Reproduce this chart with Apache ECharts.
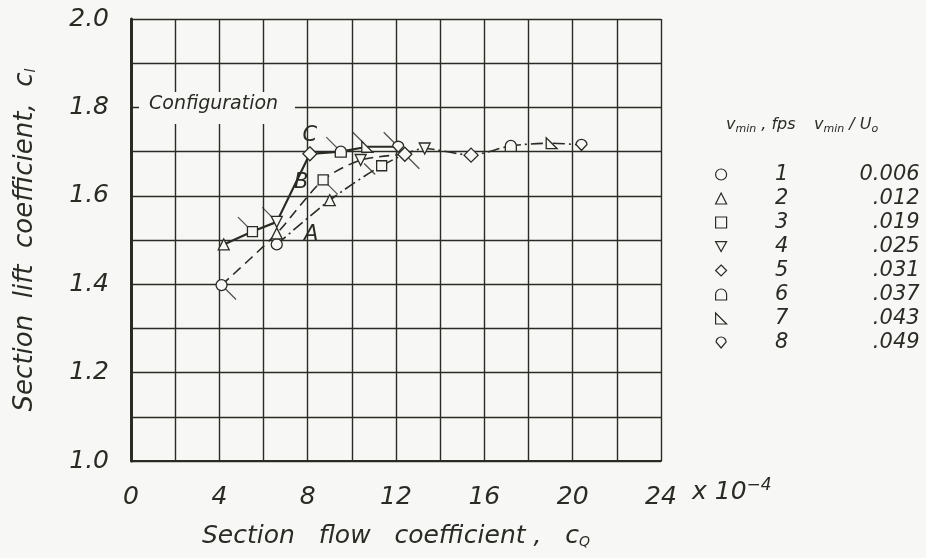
<!DOCTYPE html>
<html>
<head>
<meta charset="utf-8">
<script src="https://cdn.jsdelivr.net/npm/echarts@6/dist/echarts.min.js"></script>
<style>html,body{margin:0;padding:0;background:#f7f7f5;}#c{width:926px;height:558px;}</style>
</head>
<body>
<div id="c"></div>
<script>
// ---- data ----
// Configuration A (dash-dot)
const curveA_x = [6.6, 9.0, 11.35, 13.3, 15.4, 17.2, 19.05, 20.4];
const curveA_y = [1.49, 1.59, 1.668, 1.707, 1.692, 1.713, 1.719, 1.715];
const curveA_v = [1, 2, 3, 4, 5, 6, 7, 8];
// Configuration B (dashed)
const curveB_x = [4.1, 6.6, 8.7, 10.4, 12.4];
const curveB_y = [1.398, 1.515, 1.636, 1.681, 1.694];
const curveB_v = [1, 2, 3, 4, 5];
// Configuration C (solid)
const curveC_x = [4.2, 5.5, 6.6, 8.1, 9.5, 10.7, 12.1];
const curveC_y = [1.49, 1.519, 1.541, 1.695, 1.700, 1.711, 1.711];
const curveC_v = [2, 3, 4, 5, 6, 7, 8];

const vminFps = ['1', '2', '3', '4', '5', '6', '7', '8'];
const vminRatio = ['0.006', '.012', '.019', '.025', '.031', '.037', '.043', '.049'];
const xTickLabels = ['0', '4', '8', '12', '16', '20', '24'];
const yTickLabels = ['1.0', '1.2', '1.4', '1.6', '1.8', '2.0'];

// flagged points (index into curves)
const flagC_idx = [1, 2, 4, 5, 6];
const flagB_idx = [0, 2, 3, 4];
// configuration letters: index of the point each letter sits beside
const letterA = 0, letterB = 2, letterC = 3;

// ---- styles ----
const BG = '#f7f7f5';
const INK = '#2b2b26';
const FONT = 'DejaVu Sans';
const symbols = [
  'circle',
  'triangle',
  'rect',
  'path://M0 0 L10 0 L5 9 Z',
  'diamond',
  'path://M0 10 L0 5 A5 5 0 0 1 10 5 L10 10 Z',
  'path://M0 0 L0 10 L10 10 Z',
  'path://M0 5 A5 5 0 0 1 10 5 L5 11 Z'
];
const symSizes = [11, 11, 10, 11, 14, 11, 11, 11];

function pts(xs, ys) { return xs.map((x, i) => [x, ys[i]]); }

const curves = [
  { x: curveA_x, y: curveA_y, v: curveA_v },
  { x: curveB_x, y: curveB_y, v: curveB_v },
  { x: curveC_x, y: curveC_y, v: curveC_v }
];
const letterSpec = [
  { c: 0, i: letterA, t: 'A', pos: 'right', off: [16, -10] },
  { c: 1, i: letterB, t: 'B', pos: 'left', off: [-4, 3] },
  { c: 2, i: letterC, t: 'C', pos: 'top', off: [0, 5] }
];

const series = [];
// lines
series.push({ type: 'line', name: 'A', data: pts(curveA_x, curveA_y), symbol: 'none', smooth: 0.25,
  lineStyle: { color: INK, width: 1.6, type: [12, 4, 2, 4] }, z: 2, silent: true });
series.push({ type: 'line', name: 'B', data: pts(curveB_x, curveB_y), symbol: 'none', smooth: 0.25,
  lineStyle: { color: INK, width: 1.6, type: [10, 6] }, z: 2, silent: true });
series.push({ type: 'line', name: 'C', data: pts(curveC_x, curveC_y), symbol: 'none', smooth: false,
  lineStyle: { color: INK, width: 2.2 }, z: 2, silent: true });

// flags
const flagUL = flagC_idx.map(i => [curveC_x[i], curveC_y[i]]);
const flagLR = flagB_idx.map(i => [curveB_x[i], curveB_y[i]]);
series.push({ type: 'scatter', name: 'flagUL', data: flagUL, symbol: 'path://M0 0 L10 10', symbolSize: 11,
  symbolOffset: [-9, -9], itemStyle: { color: 'none', borderColor: INK, borderWidth: 1.3 }, z: 3, silent: true });
series.push({ type: 'scatter', name: 'flagLR', data: flagLR, symbol: 'path://M0 0 L10 10', symbolSize: 11,
  symbolOffset: [9, 9], itemStyle: { color: 'none', borderColor: INK, borderWidth: 1.3 }, z: 3, silent: true });

// symbols per vmin
for (let k = 1; k <= 8; k++) {
  const data = [];
  curves.forEach((cv, ci) => {
    cv.v.forEach((v, i) => {
      if (v !== k) return;
      const item = { value: [cv.x[i], cv.y[i]] };
      letterSpec.forEach(L => {
        if (L.c === ci && L.i === i) {
          item.label = { show: true, formatter: L.t, position: L.pos, offset: L.off,
            fontFamily: FONT, fontStyle: 'italic', fontSize: 21, color: INK };
        }
      });
      data.push(item);
    });
  });
  series.push({
    type: 'scatter', name: vminFps[k - 1], data: data,
    symbol: symbols[k - 1], symbolSize: symSizes[k - 1],
    itemStyle: { color: BG, borderColor: INK, borderWidth: 1.3, opacity: 1 },
    z: 5
  });
}

const chart = echarts.init(document.getElementById('c'), null, { renderer: 'canvas' });
const labelStyle = { fontFamily: FONT, fontStyle: 'italic', fontSize: 25, color: INK };

chart.setOption({
  backgroundColor: BG,
  animation: false,
  grid: { left: 131, right: 265, top: 19, bottom: 97 },
  xAxis: {
    type: 'value', min: 0, max: 24, interval: 4,
    axisLine: { show: true, onZero: false, lineStyle: { color: INK, width: 2 } },
    axisTick: { show: false },
    axisLabel: Object.assign({ margin: 24, formatter: v => xTickLabels[Math.round(v / 4)] }, labelStyle),
    splitLine: { show: true, lineStyle: { color: INK, width: 1.4 } },
    minorTick: { show: false, splitNumber: 2 },
    minorSplitLine: { show: true, lineStyle: { color: INK, width: 1.4 } },
    name: 'Section   flow   coefficient ,   c{sub|Q}',
    nameLocation: 'middle', nameGap: 62,
    nameTextStyle: { fontFamily: FONT, fontStyle: 'italic', fontSize: 25, color: INK,
      rich: { sub: { fontFamily: FONT, fontStyle: 'italic', fontSize: 14, color: INK, verticalAlign: 'bottom', padding: [12, 0, 0, 0] } } }
  },
  yAxis: {
    type: 'value', min: 1.0, max: 2.0, interval: 0.2,
    axisLine: { show: true, onZero: false, lineStyle: { color: INK, width: 3 } },
    axisTick: { show: false },
    axisLabel: Object.assign({ margin: 22, formatter: v => yTickLabels[Math.round((v - 1) / 0.2)] }, labelStyle),
    splitLine: { show: true, lineStyle: { color: INK, width: 1.4 } },
    minorTick: { show: false, splitNumber: 2 },
    minorSplitLine: { show: true, lineStyle: { color: INK, width: 1.4 } },
    name: 'Section  lift  coefficient,  c{sub|l}',
    nameLocation: 'middle', nameGap: 93, nameRotate: 90,
    nameTextStyle: { fontFamily: FONT, fontStyle: 'italic', fontSize: 26, color: INK,
      rich: { sub: { fontFamily: FONT, fontStyle: 'italic', fontSize: 14, color: INK, verticalAlign: 'bottom', padding: [12, 0, 0, 0] } } }
  },
  legend: {
    data: vminFps,
    orient: 'vertical', left: 710, top: 159,
    itemWidth: 11, itemHeight: 11, itemGap: 3,
    itemStyle: { color: BG, borderColor: INK, borderWidth: 1.2 },
    selectedMode: false,
    formatter: name => {
      const i = vminFps.indexOf(name);
      return '{n|' + name + '}{r|' + vminRatio[i] + '}';
    },
    textStyle: {
      fontFamily: FONT, fontStyle: 'italic', fontSize: 21, color: INK,
      rich: {
        n: { width: 100, align: 'center', fontFamily: FONT, fontStyle: 'italic', fontSize: 21, color: INK, lineHeight: 20 },
        r: { width: 88, align: 'right', fontFamily: FONT, fontStyle: 'italic', fontSize: 21, color: INK, lineHeight: 20 }
      }
    }
  },
  graphic: [
    { type: 'rect', left: 139, top: 92, shape: { width: 156, height: 32 }, style: { fill: BG }, z: 10 },
    { type: 'text', left: 149, top: 95, z: 11,
      style: { text: 'Configuration', fontFamily: FONT, fontStyle: 'italic', fontSize: 19, fill: INK } },
    { type: 'text', left: 692, top: 477, z: 11,
      style: { text: 'x 10{sup|−4}', fontFamily: FONT, fontStyle: 'italic', fontSize: 25, fill: INK,
        rich: { sup: { fontFamily: FONT, fontStyle: 'italic', fontSize: 17, fill: INK, verticalAlign: 'top', padding: [0, 0, 14, 0] } } } },
    { type: 'text', left: 726, top: 117, z: 11,
      style: { text: 'v{s|min} , fps', fontFamily: FONT, fontStyle: 'italic', fontSize: 16, fill: INK,
        rich: { s: { fontFamily: FONT, fontStyle: 'italic', fontSize: 11, fill: INK, padding: [8, 0, 0, 0] } } } },
    { type: 'text', left: 814, top: 117, z: 11,
      style: { text: 'v{s|min} / U{s|o}', fontFamily: FONT, fontStyle: 'italic', fontSize: 16, fill: INK,
        rich: { s: { fontFamily: FONT, fontStyle: 'italic', fontSize: 11, fill: INK, padding: [8, 0, 0, 0] } } } }
  ],
  series: series
});
</script>
</body>
</html>
